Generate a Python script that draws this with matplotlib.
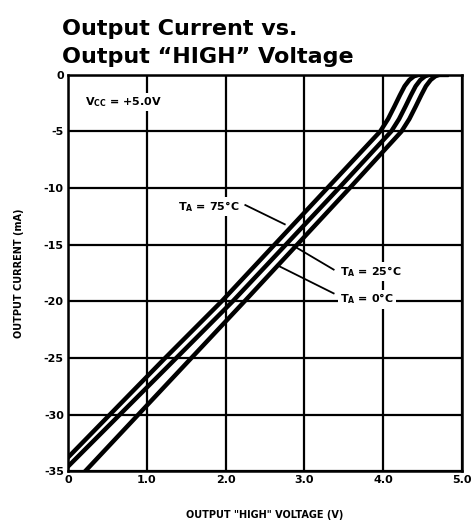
import matplotlib
matplotlib.use("Agg")
import matplotlib.pyplot as plt

# Output current (mA) vs output HIGH voltage (V)
v_75 = [0.0, 1.22, 1.95, 3.25, 3.96, 4.06, 4.14, 4.21, 4.27, 4.33, 4.39, 4.45, 4.8]
i_75 = [-33.8, -25.1, -20, -10.3, -5, -3.9, -2.8, -1.8, -1.0, -0.45, -0.12, 0, 0]

v_25 = [0.0, 1.39, 2.09, 3.41, 4.10, 4.20, 4.28, 4.35, 4.41, 4.47, 4.53, 4.58, 4.8]
i_25 = [-34.6, -24.9, -20, -10.2, -5, -3.9, -2.8, -1.8, -1.0, -0.45, -0.12, 0, 0]

v_0 = [0.22, 1.58, 2.24, 3.56, 4.23, 4.33, 4.41, 4.48, 4.54, 4.60, 4.66, 4.71, 4.8]
i_0 = [-35, -24.9, -20, -10.1, -5, -3.9, -2.8, -1.8, -1.0, -0.45, -0.12, 0, 0]

x_ticks = [0, 1, 2, 3, 4, 5]
x_tick_labels = ["0", "1.0", "2.0", "3.0", "4.0", "5.0"]
y_ticks = [0, -5, -10, -15, -20, -25, -30, -35]
y_tick_labels = ["0", "-5", "-10", "-15", "-20", "-25", "-30", "-35"]

plt.rcParams['font.family'] = ['DejaVu Sans']

fig = plt.figure(figsize=(4.75, 5.27), dpi=100)
ax = fig.add_axes([0.143, 0.106, 0.83, 0.752])

for v, i in [(v_75, i_75), (v_25, i_25), (v_0, i_0)]:
    ax.plot(v, i, color="black", lw=3.2, solid_joinstyle="round", zorder=3)

ax.set_xlim(0, 5)
ax.set_ylim(-35, 0)
ax.set_xticks(x_ticks)
ax.set_xticklabels(x_tick_labels, fontsize=8, fontweight="bold")
ax.set_yticks(y_ticks)
ax.set_yticklabels(y_tick_labels, fontsize=8, fontweight="bold")
ax.tick_params(length=0, pad=3)
ax.grid(True, color="black", lw=1.6)
for s in ax.spines.values():
    s.set_linewidth(1.8)

ax.set_xlabel('OUTPUT "HIGH" VOLTAGE (V)', fontsize=7, fontweight="bold", labelpad=18)
ax.set_ylabel("OUTPUT CURRENT (mA)", fontsize=7, fontweight="bold", labelpad=14)

box = dict(facecolor="white", edgecolor="none", pad=1.5)
ax.text(0.22, -2.4, "V$_\\mathregular{CC}$ = +5.0V", fontsize=8, fontweight="bold",
        va="center", ha="left", bbox=box, zorder=4)

# temperature labels with leader lines
ax.text(1.40, -11.6, "T$_\\mathregular{A}$ = 75°C", fontsize=8, fontweight="bold",
        va="center", ha="left", bbox=box, zorder=4)
ax.plot([2.25, 2.75], [-11.5, -13.2], color="black", lw=1.3, zorder=4)

ax.text(3.45, -17.4, "T$_\\mathregular{A}$ = 25°C", fontsize=8, fontweight="bold",
        va="center", ha="left", bbox=box, zorder=4)
ax.plot([2.86, 3.37], [-15.1, -17.2], color="black", lw=1.3, zorder=4)

ax.text(3.45, -19.8, "T$_\\mathregular{A}$ = 0°C", fontsize=8, fontweight="bold",
        va="center", ha="left", bbox=box, zorder=4)
ax.plot([2.65, 3.37], [-16.8, -19.3], color="black", lw=1.3, zorder=4)

fig.text(0.13, 0.945, "Output Current vs.", fontsize=16, fontweight="bold", ha="left", va="center")
fig.text(0.13, 0.892, "Output \u201cHIGH\u201d Voltage", fontsize=16, fontweight="bold", ha="left", va="center")

fig.savefig("out.png", dpi=100)
